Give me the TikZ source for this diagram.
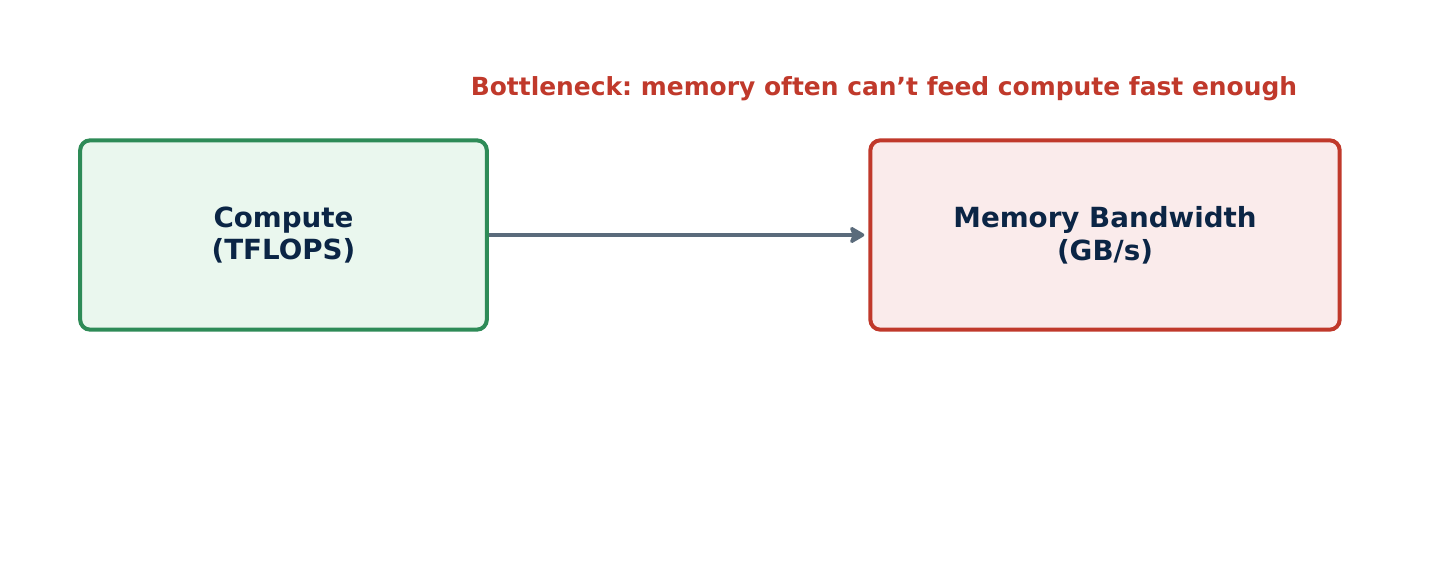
\documentclass[tikz,border=0pt]{standalone}
\usepackage{fontspec}
\setmainfont{DejaVu Sans}
\usetikzlibrary{arrows.meta,positioning}
\definecolor{cgreen}{HTML}{2E8B57}
\definecolor{cgreenbg}{HTML}{EAF7EE}
\definecolor{cred}{HTML}{C0392B}
\definecolor{credbg}{HTML}{FAEBEB}
\definecolor{ctext}{HTML}{0B2545}
\definecolor{carrow}{HTML}{5A6B7B}
\tikzset{
  box/.style={draw, rounded corners=7.5pt, line width=3pt, align=center,
    minimum height=142pt, text=ctext, font=\bfseries\fontsize{20.8}{24.5}\selectfont},
  arrow/.style={draw=carrow, line width=3.6pt, -{Stealth[length=13pt,width=15pt,inset=3pt,round]}}
}
\frenchspacing
\begin{document}
\begin{tikzpicture}[x=0.75pt,y=-0.75pt]
\useasboundingbox (0,0) rectangle (1434,563);
\node [box, draw=cgreen, fill=cgreenbg, minimum width=305pt] (compute) at (283.5,235) {Compute\\(TFLOPS)};
\node [box, draw=cred, fill=credbg, minimum width=352pt] (mem) at (1105,235) {Memory Bandwidth\\(GB/s)};
\node [text=cred, font=\bfseries\fontsize{18.7}{22}\selectfont] (note) at (884,89) {Bottleneck: memory often can{\char"0027}t feed compute fast enough};
\draw [arrow] (compute) -- ([xshift=-3pt]mem.west);
\end{tikzpicture}
\end{document}
